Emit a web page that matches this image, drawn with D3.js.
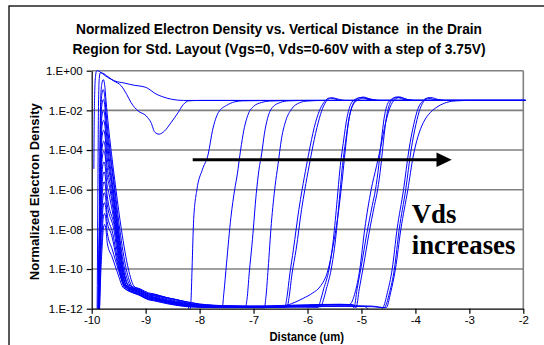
<!DOCTYPE html>
<html>
<head>
<meta charset="utf-8">
<script src="https://cdn.jsdelivr.net/npm/d3@7"></script>
<style>
  body { margin: 0; background: #fff; }
  svg { display: block; }
</style>
</head>
<body>
<svg id="chart"></svg>
<script>
// ---- data (x in um, y as log10 of normalized density) ----
const xTicks = [-10, -9, -8, -7, -6, -5, -4, -3, -2];
const xTickLabels = ['-10', '-9', '-8', '-7', '-6', '-5', '-4', '-3', '-2'];
const yTicks = [1, 1e-2, 1e-4, 1e-6, 1e-8, 1e-10, 1e-12];
const yTickLabels = ['1.E+00', '1.E-02', '1.E-04', '1.E-06', '1.E-08', '1.E-10', '1.E-12'];
const titleLines = [
  'Normalized Electron Density vs. Vertical Distance  in the Drain',
  'Region for Std. Layout (Vgs=0, Vds=0-60V with a step of 3.75V)'
];
const vdsLabels = ['0', '3.75', '7.5', '11.25', '15', '18.75', '22.5', '26.25', '30',
  '33.75', '37.5', '41.25', '45', '48.75', '52.5', '56.25', '60'];

const vds0 = [[-9.96,-4.95],[-9.955,-3],[-9.945,-1.2],[-9.93,-0.3],[-9.91,-0.02],[-9.89,0],[-9.85,-0.05],[-9.75,-0.25],[-9.65,-0.42],[-9.57,-0.52],[-9.4,-0.62],[-9.2,-0.74],[-9.05,-0.8],[-8.98,-0.86],[-8.9,-1.0],[-8.83,-1.14],[-8.7,-1.3],[-8.52,-1.44],[-8.3,-1.5],[-7.5,-1.5],[-1.96,-1.5]];
const vds3 = [[-9.9,-12.5],[-9.885,-6],[-9.875,-2],[-9.86,-0.4],[-9.84,-0.1],[-9.8,-0.12],[-9.7,-0.3],[-9.6,-0.5],[-9.45,-0.77],[-9.35,-1.2],[-9.27,-1.61],[-9.14,-2.03],[-8.99,-2.28],[-8.9,-2.62],[-8.83,-3.1],[-8.75,-3.2],[-8.65,-3.04],[-8.53,-2.62],[-8.4,-2.12],[-8.3,-1.7],[-8.2,-1.52],[-8.0,-1.5],[-1.96,-1.5]];
const vds7 = [[-9.885,-12.4],[-9.865,-9],[-9.835,-1.6],[-9.815,-0.7],[-9.785,-0.45],[-9.76,-0.7],[-9.735,-1.5],[-9.55,-6],[-9.45,-8],[-9.32,-10],[-9.22,-10.85],[-9.1,-11.05],[-8.95,-11.25],[-8.85,-11.3],[-8.6,-11.45],[-8.35,-11.6],[-8.22,-11.75],[-8.19,-12.2],[-8.16,-11.6],[-8.14,-10],[-8.11,-7.5],[-8.05,-6],[-7.95,-5],[-7.84,-4.2],[-7.76,-3],[-7.65,-2.1],[-7.5,-1.75],[-7.35,-1.57],[-7.2,-1.52],[-6.5,-1.5],[-1.96,-1.5]];
const vds11 = [[-9.883,-12.4],[-9.862,-9],[-9.832,-2.1],[-9.812,-1.2],[-9.787,-0.95],[-9.762,-1.2],[-9.737,-2.0],[-9.57,-6],[-9.48,-8],[-9.36,-10],[-9.25,-10.9],[-9.1,-11.25],[-8.95,-11.45],[-8.85,-11.5],[-8.6,-11.65],[-8.3,-11.8],[-8.0,-11.88],[-7.7,-11.9],[-7.58,-11.93],[-7.55,-11.2],[-7.5,-9.7],[-7.42,-7.4],[-7.35,-6],[-7.3,-5.2],[-7.24,-4.0],[-7.18,-3.0],[-7.1,-2.2],[-7.0,-1.8],[-6.85,-1.6],[-6.7,-1.53],[-6.2,-1.5],[-1.96,-1.5]];
const vds15 = [[-9.881,-12.4],[-9.86,-9],[-9.83,-2.6],[-9.81,-1.7],[-9.785,-1.45],[-9.76,-1.7],[-9.735,-2.5],[-9.58,-6],[-9.5,-8],[-9.39,-10],[-9.28,-10.85],[-9.1,-11.1],[-8.95,-11.3],[-8.85,-11.35],[-8.6,-11.55],[-8.3,-11.7],[-8.0,-11.82],[-7.5,-11.88],[-7.15,-11.9],[-7.12,-11.5],[-7.08,-10.2],[-7.02,-8.5],[-6.95,-6.2],[-6.9,-5],[-6.85,-4.2],[-6.8,-3.2],[-6.74,-2.4],[-6.65,-1.85],[-6.5,-1.6],[-6.35,-1.52],[-6.0,-1.5],[-1.96,-1.5]];
const vds18 = [[-9.879,-12.4],[-9.858,-9],[-9.828,-3.1],[-9.808,-2.25],[-9.783,-2.0],[-9.758,-2.25],[-9.733,-3.0],[-9.6,-6],[-9.51,-8],[-9.41,-10],[-9.3,-10.95],[-9.1,-11.3],[-8.95,-11.5],[-8.85,-11.55],[-8.6,-11.7],[-8.3,-11.85],[-8.0,-11.9],[-7.5,-11.93],[-6.8,-11.95],[-6.77,-11.4],[-6.73,-10],[-6.67,-7.7],[-6.6,-5.8],[-6.55,-4.8],[-6.48,-3.4],[-6.4,-2.5],[-6.3,-1.95],[-6.15,-1.62],[-6.0,-1.53],[-5.7,-1.5],[-1.96,-1.5]];
const vds22 = [[-9.877,-12.4],[-9.856,-9],[-9.826,-3.6],[-9.806,-2.75],[-9.781,-2.5],[-9.756,-2.75],[-9.731,-3.5],[-9.61,-6],[-9.52,-8],[-9.42,-10],[-9.31,-10.9],[-9.1,-11.15],[-8.95,-11.35],[-8.85,-11.42],[-8.6,-11.6],[-8.3,-11.75],[-8.0,-11.85],[-7.5,-11.9],[-6.9,-11.92],[-6.42,-11.93],[-6.38,-11.4],[-6.33,-10.3],[-6.26,-9],[-6.16,-7],[-6.1,-6],[-6.02,-4.8],[-5.95,-3.8],[-5.85,-2.6],[-5.76,-1.9],[-5.68,-1.55],[-5.6,-1.38],[-5.5,-1.42],[-5.4,-1.5],[-1.96,-1.5]];
const vds26 = [[-9.875,-12.4],[-9.854,-9],[-9.824,-4.1],[-9.804,-3.25],[-9.779,-3.0],[-9.754,-3.25],[-9.729,-4.0],[-9.62,-6],[-9.53,-8],[-9.43,-10],[-9.32,-10.8],[-9.1,-11.0],[-8.95,-11.2],[-8.85,-11.25],[-8.6,-11.45],[-8.3,-11.62],[-8.0,-11.78],[-7.5,-11.86],[-6.9,-11.9],[-6.38,-11.92],[-6.34,-11.4],[-6.29,-10.3],[-6.21,-9],[-6.11,-7],[-6.05,-6],[-5.97,-4.8],[-5.9,-3.8],[-5.8,-2.6],[-5.72,-1.9],[-5.64,-1.5],[-5.55,-1.36],[-5.45,-1.42],[-5.3,-1.5],[-1.96,-1.5]];
const vds30 = [[-9.873,-12.4],[-9.852,-9],[-9.822,-4.65],[-9.802,-3.8],[-9.777,-3.55],[-9.752,-3.8],[-9.727,-4.55],[-9.64,-6],[-9.54,-8],[-9.44,-10],[-9.33,-11.0],[-9.1,-11.35],[-8.95,-11.55],[-8.85,-11.6],[-8.6,-11.75],[-8.3,-11.88],[-8.0,-11.93],[-7.5,-11.95],[-6.8,-11.95],[-6.5,-11.9],[-6.3,-11.75],[-6.08,-11.48],[-5.9,-11.2],[-5.77,-10.9],[-5.62,-10.05],[-5.53,-8.9],[-5.44,-7.4],[-5.36,-5.6],[-5.3,-4.0],[-5.24,-2.6],[-5.17,-1.8],[-5.08,-1.5],[-4.95,-1.38],[-4.8,-1.45],[-4.65,-1.5],[-1.96,-1.5]];
const vds33 = [[-9.871,-12.4],[-9.85,-9],[-9.82,-5.15],[-9.8,-4.3],[-9.775,-4.05],[-9.75,-4.3],[-9.725,-5.05],[-9.66,-6],[-9.55,-8],[-9.45,-10],[-9.34,-10.9],[-9.1,-11.2],[-8.95,-11.4],[-8.85,-11.45],[-8.6,-11.62],[-8.3,-11.78],[-8.0,-11.88],[-7.5,-11.92],[-6.8,-11.93],[-6.2,-11.92],[-5.8,-11.93],[-5.76,-11.6],[-5.7,-11],[-5.6,-10],[-5.52,-8.5],[-5.45,-6.5],[-5.4,-5],[-5.33,-3.5],[-5.27,-2.4],[-5.2,-1.7],[-5.12,-1.45],[-5.0,-1.35],[-4.88,-1.45],[-4.7,-1.5],[-1.96,-1.5]];
const vds37 = [[-9.869,-12.4],[-9.848,-9],[-9.818,-5.7],[-9.798,-4.85],[-9.773,-4.6],[-9.748,-4.85],[-9.723,-5.6],[-9.68,-6.2],[-9.56,-8],[-9.46,-10],[-9.35,-10.85],[-9.1,-11.1],[-8.95,-11.3],[-8.85,-11.33],[-8.6,-11.5],[-8.3,-11.68],[-8.0,-11.8],[-7.5,-11.86],[-6.8,-11.88],[-6.2,-11.88],[-5.75,-11.9],[-5.71,-11.6],[-5.65,-11],[-5.56,-10],[-5.48,-8.5],[-5.41,-6.5],[-5.36,-5],[-5.29,-3.5],[-5.23,-2.4],[-5.16,-1.7],[-5.08,-1.42],[-4.96,-1.33],[-4.85,-1.42],[-4.7,-1.5],[-1.96,-1.5]];
const vds41 = [[-9.867,-12.4],[-9.846,-9],[-9.816,-6.2],[-9.796,-5.35],[-9.771,-5.1],[-9.746,-5.35],[-9.721,-6.1],[-9.57,-8],[-9.47,-10],[-9.36,-10.95],[-9.1,-11.3],[-8.95,-11.5],[-8.85,-11.52],[-8.6,-11.68],[-8.3,-11.83],[-8.0,-11.9],[-7.5,-11.93],[-6.8,-11.9],[-6.0,-11.85],[-5.5,-11.8],[-5.25,-11.8],[-5.2,-11.75],[-5.12,-11.2],[-5.03,-10],[-4.94,-8],[-4.82,-6],[-4.72,-4.8],[-4.64,-3.8],[-4.55,-2.6],[-4.47,-1.85],[-4.38,-1.45],[-4.28,-1.35],[-4.15,-1.45],[-4.0,-1.5],[-1.96,-1.5]];
const vds45 = [[-9.865,-12.4],[-9.844,-9],[-9.814,-6.7],[-9.794,-5.85],[-9.769,-5.6],[-9.744,-5.85],[-9.719,-6.6],[-9.59,-8],[-9.48,-10],[-9.37,-10.9],[-9.1,-11.15],[-8.95,-11.35],[-8.85,-11.4],[-8.6,-11.58],[-8.3,-11.72],[-8.0,-11.84],[-7.5,-11.88],[-6.8,-11.86],[-6.0,-11.8],[-5.5,-11.78],[-5.18,-11.8],[-5.14,-11.95],[-5.08,-11.0],[-5.0,-9.8],[-4.9,-8.2],[-4.8,-6.8],[-4.74,-6],[-4.68,-4.8],[-4.63,-3.5],[-4.58,-2.4],[-4.52,-1.7],[-4.45,-1.45],[-4.35,-1.33],[-4.22,-1.45],[-4.1,-1.5],[-1.96,-1.5]];
const vds48 = [[-9.863,-12.4],[-9.842,-9],[-9.812,-7.25],[-9.792,-6.4],[-9.767,-6.15],[-9.742,-6.4],[-9.717,-7.15],[-9.61,-8.2],[-9.49,-10],[-9.38,-11.0],[-9.1,-11.32],[-8.95,-11.52],[-8.85,-11.57],[-8.6,-11.72],[-8.3,-11.86],[-8.0,-11.92],[-7.5,-11.94],[-6.8,-11.9],[-6.0,-11.83],[-5.4,-11.78],[-5.15,-11.8],[-5.1,-11.95],[-5.04,-11.0],[-4.96,-9.8],[-4.86,-8.2],[-4.76,-6.8],[-4.7,-6],[-4.64,-4.8],[-4.59,-3.5],[-4.54,-2.4],[-4.48,-1.7],[-4.41,-1.42],[-4.3,-1.32],[-4.18,-1.43],[-4.05,-1.5],[-1.96,-1.5]];
const vds52 = [[-9.861,-12.4],[-9.84,-9.5],[-9.81,-7.75],[-9.79,-6.9],[-9.765,-6.65],[-9.74,-6.9],[-9.715,-7.6],[-9.63,-8.3],[-9.5,-10],[-9.39,-10.9],[-9.1,-11.2],[-8.95,-11.4],[-8.85,-11.45],[-8.6,-11.62],[-8.3,-11.77],[-8.0,-11.86],[-7.5,-11.9],[-6.8,-11.9],[-6.0,-11.88],[-5.3,-11.87],[-4.95,-11.88],[-4.85,-12.05],[-4.65,-12.05],[-4.6,-11.95],[-4.52,-11.2],[-4.43,-10],[-4.34,-8],[-4.22,-6],[-4.12,-4],[-4.03,-2.7],[-3.95,-1.9],[-3.87,-1.55],[-3.78,-1.38],[-3.65,-1.45],[-3.5,-1.5],[-1.96,-1.5]];
const vds56 = [[-9.859,-12.4],[-9.838,-10],[-9.808,-8.3],[-9.788,-7.45],[-9.763,-7.2],[-9.738,-7.45],[-9.713,-8.15],[-9.62,-9.0],[-9.51,-10],[-9.4,-10.8],[-9.1,-11.05],[-8.95,-11.25],[-8.85,-11.28],[-8.6,-11.45],[-8.3,-11.62],[-8.0,-11.76],[-7.5,-11.85],[-6.8,-11.88],[-6.0,-11.87],[-5.3,-11.85],[-4.8,-11.87],[-4.58,-11.95],[-4.48,-11.2],[-4.39,-10],[-4.3,-8],[-4.18,-6],[-4.08,-4],[-3.99,-2.7],[-3.91,-1.9],[-3.83,-1.5],[-3.72,-1.35],[-3.58,-1.45],[-3.45,-1.5],[-1.96,-1.5]];
const vds60 = [[-9.857,-12.4],[-9.836,-10.5],[-9.806,-8.85],[-9.786,-8.0],[-9.761,-7.75],[-9.736,-8.0],[-9.711,-8.7],[-9.62,-9.4],[-9.52,-10.2],[-9.41,-10.95],[-9.1,-11.25],[-8.95,-11.45],[-8.85,-11.5],[-8.6,-11.66],[-8.3,-11.8],[-8.0,-11.89],[-7.5,-11.92],[-6.8,-11.92],[-6.0,-11.9],[-5.3,-11.88],[-4.8,-11.9],[-4.54,-11.95],[-4.46,-11.2],[-4.37,-10],[-4.27,-8],[-4.14,-6],[-4.04,-4.3],[-3.95,-3.3],[-3.85,-2.6],[-3.72,-2.1],[-3.58,-1.8],[-3.42,-1.6],[-3.24,-1.52],[-3.0,-1.5],[-1.96,-1.5]];

const series = [vds0, vds3, vds7, vds11, vds15, vds18, vds22, vds26, vds30,
  vds33, vds37, vds41, vds45, vds48, vds52, vds56, vds60];

// ---- layout ----
const width = 544, height = 345;
const plotL = 91.7, plotR = 523.3, plotT = 70.7, plotB = 308.7;
const sans = "'Liberation Sans', Arial, sans-serif";

const x = d3.scaleLinear().domain([-10, -2]).range([plotL, plotR]);
const y = d3.scaleLog().domain([1e-12, 1]).range([plotB, plotT]);

const svg = d3.select('#chart')
  .attr('width', width)
  .attr('height', height)
  .style('background', '#fff');

// outer chart frame (runs off the picture on the right and bottom)
svg.append('rect')
  .attr('x', 9).attr('y', 6)
  .attr('width', 620).attr('height', 420)
  .attr('fill', 'none')
  .attr('stroke', '#000')
  .attr('stroke-width', 1.3);

// title
titleLines.forEach((t, i) => {
  svg.append('g')
    .attr('transform', `translate(279,${34 + i * 20}) scale(1,1.1)`)
    .append('text')
    .attr('text-anchor', 'middle')
    .attr('font-family', sans)
    .attr('font-weight', 'bold')
    .attr('font-size', 13.6)
    .attr('textLength', i === 0 ? 406 : 413)
    .attr('lengthAdjust', 'spacingAndGlyphs')
    .style('white-space', 'pre')
    .text(t);
});

// grid + plot border
const grid = svg.append('g');
grid.selectAll('line.h')
  .data(yTicks.slice(0, -1))
  .join('line')
  .attr('x1', plotL).attr('x2', plotR)
  .attr('y1', d => y(d)).attr('y2', d => y(d))
  .attr('stroke', '#808080')
  .attr('stroke-width', 1.6);
grid.append('line')
  .attr('x1', plotR).attr('x2', plotR)
  .attr('y1', plotT).attr('y2', plotB)
  .attr('stroke', '#808080')
  .attr('stroke-width', 1.6);

// curves
svg.append('clipPath').attr('id', 'clip')
  .append('rect')
  .attr('x', plotL - 8).attr('y', plotT - 8)
  .attr('width', plotR - plotL + 12).attr('height', plotB - plotT + 8);

const line = d3.line()
  .x(d => x(d[0]))
  .y(d => y(Math.pow(10, d[1])))
  .curve(d3.curveMonotoneX);

svg.append('g')
  .attr('clip-path', 'url(#clip)')
  .selectAll('path')
  .data(series)
  .join('path')
  .attr('d', line)
  .attr('fill', 'none')
  .attr('stroke', '#0000ff')
  .attr('stroke-width', 1);

// axes
const yAxis = svg.append('g')
  .attr('transform', `translate(${plotL},0)`)
  .call(d3.axisLeft(y)
    .tickValues(yTicks)
    .tickFormat((d, i) => yTickLabels[i])
    .tickSize(5)
    .tickSizeOuter(0)
    .tickPadding(4));

const xAxis = svg.append('g')
  .attr('transform', `translate(0,${plotB})`)
  .call(d3.axisBottom(x)
    .tickValues(xTicks)
    .tickFormat((d, i) => xTickLabels[i])
    .tickSize(5)
    .tickSizeOuter(0)
    .tickPadding(2));

[yAxis, xAxis].forEach(a => {
  a.select('.domain').attr('stroke', '#000').attr('stroke-width', 1.2);
  a.selectAll('.tick line').attr('stroke', '#000').attr('stroke-width', 1.2);
  a.selectAll('.tick text')
    .attr('font-family', sans)
    .attr('font-size', 11.5)
    .attr('fill', '#000');
});

// axis titles
svg.append('g')
  .attr('transform', 'translate(39,191.7) rotate(-90)')
  .append('text')
  .attr('text-anchor', 'middle')
  .attr('font-family', sans)
  .attr('font-weight', 'bold')
  .attr('font-size', 12.5)
  .attr('textLength', 177)
  .attr('lengthAdjust', 'spacingAndGlyphs')
  .text('Normalized Electron Density');

svg.append('g')
  .attr('transform', 'translate(306.7,340.5) scale(1,1.1)')
  .append('text')
  .attr('text-anchor', 'middle')
  .attr('font-family', sans)
  .attr('font-weight', 'bold')
  .attr('font-size', 11.3)
  .attr('textLength', 74.5)
  .attr('lengthAdjust', 'spacingAndGlyphs')
  .text('Distance (um)');

// annotation: arrow and "Vds increases"
svg.append('line')
  .attr('x1', 192.7).attr('x2', 438)
  .attr('y1', 159.8).attr('y2', 159.8)
  .attr('stroke', '#000')
  .attr('stroke-width', 3);
svg.append('path')
  .attr('d', 'M451.7,159.8 L436.5,152.5 L436.5,167.1 Z')
  .attr('fill', '#000');

const serif = "'Liberation Serif', 'Times New Roman', serif";
[['Vds', 222.7], ['increases', 254]].forEach(([t, by]) => {
  svg.append('text')
    .attr('x', 411.7).attr('y', by)
    .attr('font-family', serif)
    .attr('font-weight', 'bold')
    .attr('font-size', 26.8)
    .attr('fill', '#000')
    .text(t);
});
</script>
</body>
</html>
